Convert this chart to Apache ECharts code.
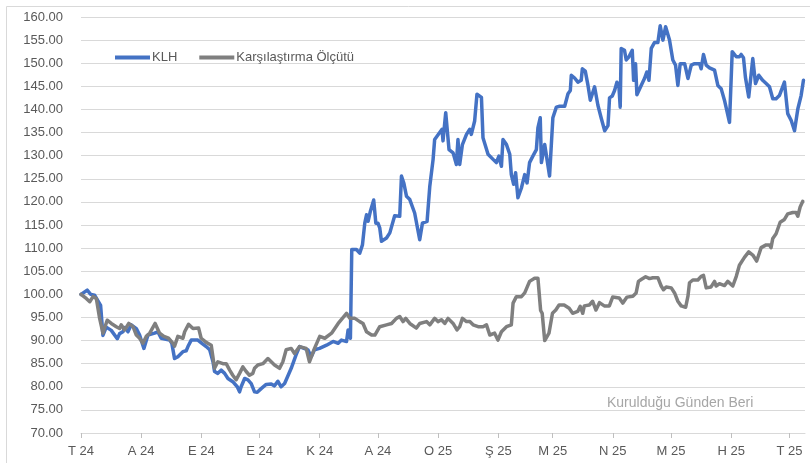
<!DOCTYPE html>
<html>
<head>
<meta charset="utf-8">
<script src="https://cdn.jsdelivr.net/npm/echarts@6/dist/echarts.min.js"></script>
<style>
  html, body { margin: 0; padding: 0; background: #fff; }
  #chart { width: 810px; height: 463px; }
</style>
</head>
<body>
<div id="chart"></div>
<script>
// days since inception (2024-07-01) of each month start, with its axis label
const monthDays = [0, 31, 62, 92, 123, 153, 184, 215, 243, 274, 304, 335, 365]
const monthLabels = ['T 24', 'A 24', 'E 24', 'E 24', 'K 24', 'A 24', 'O 25', 'Ş 25', 'M 25', 'N 25', 'M 25', 'H 25', 'T 25']

// KLH
const klhDays = [0, 1, 3.2, 5, 7, 10.1, 11.3, 13, 15.6, 18.7, 19.9, 21.6, 22.5, 24.2, 25.9, 28.5, 30.2, 32.4, 34.5, 37.9,
  39.6, 41.3, 45.7, 46.8, 48.2, 49.9, 52.5, 54.2, 55.1, 56.8, 60.2, 62.3, 64.5, 66.3, 68, 68.8, 70.5, 72.2, 74, 75.7,
  78.2, 80.5, 81.7, 82.5, 84.3, 86, 87.7, 89.4, 90.8, 92.8, 95.4, 98, 99.7, 101.4, 103.1, 104.9, 108.3, 110.8, 112.6, 116.9,
  118.6, 120.3, 122.9, 126.5, 129.9, 132.5, 134.2, 136.8, 137.6, 138.8, 139.5, 141.9, 143.6, 145, 146.2, 147.1, 147.9, 149.1, 150.8, 151.9,
  153, 153.9, 154.8, 157.4, 159.1, 161.6, 164.2, 165.1, 166.3, 167.7, 169.4, 171.9, 174.5, 175.9, 178.3, 179.7, 181.4, 182.2, 184.8, 186,
  186.5, 187.9, 189.6, 191.7, 193.4, 194.2, 195.1, 196.5, 198.6, 200.3, 201.1, 202.8, 204, 206.3, 207.1, 209.7, 212.3, 214, 215.3, 216.6,
  217.4, 219.2, 220.9, 221.7, 222.9, 223.9, 225.1, 226.9, 228.6, 229.8, 231.1, 232.8, 234.6, 235.4, 236.6, 237.2, 238.9, 241.4, 243.1, 244.9,
  246.6, 249.2, 250.9, 252.1, 252.6, 254.3, 256, 256.9, 257.7, 258.3, 259.8, 261.2, 262.4, 263.4, 264.6, 266.3, 268.1, 269.8, 271.5, 272.3,
  273.7, 274.9, 276.1, 277.1, 277.8, 278.3, 280, 280.9, 282.3, 284, 284.7, 285.7, 286.4, 288.6, 290.3, 291.5, 292.6, 293.8, 295.5, 297.2,
  298.4, 299.8, 301.2, 303.2, 304.9, 306.3, 307.5, 308.7, 311, 312.7, 314.4, 316.1, 318.7, 319.5, 320.7, 322.1, 323.8, 326.4, 328.1, 329.8,
  331.5, 332.7, 334.1, 335.5, 337.6, 339.2, 340.1, 341.3, 342.3, 344, 346.1, 347.5, 349.2, 351.2, 353, 354.7, 356.4, 358.1, 359.8, 362.4,
  364.1, 365.9, 367.6, 369.3, 371, 372.2]
const klhValues = [100, 100.2, 100.9, 100, 99.8, 97.6, 91.1, 92.9, 92.2, 90.4, 91.5, 91.9, 92.8, 91.9, 93.4, 92.6, 91.2, 88.3, 91.2, 91.6,
  91.9, 90.5, 90.1, 89.4, 86.1, 86.5, 87.6, 87.8, 88.7, 90.1, 90.1, 89.4, 88.7, 88, 85.4, 83.3, 82.9, 83.6, 82.9, 81.8,
  81.1, 80, 78.9, 80, 81.8, 81.5, 80.7, 78.9, 78.8, 79.6, 80.5, 80.6, 80.2, 81.2, 80, 80.7, 84, 86.9, 88.7, 88,
  86.5, 88, 88.3, 89, 89.8, 89.4, 90.1, 89.8, 92.3, 90.5, 109.7, 109.7, 108.9, 110.7, 115.4, 117.2, 115.8, 118, 120.4, 115.4,
  115.4, 114.4, 111.5, 112.2, 113.3, 117, 116.9, 125.6, 124.1, 121.2, 120.5, 117.6, 111.8, 115.4, 115.8, 123.4, 129.2, 133.5, 135, 135.7,
  133.2, 139.3, 131.3, 130.6, 128.1, 133.5, 128.1, 132.4, 134.6, 135.7, 134.6, 137.5, 143.3, 142.6, 133.9, 130.3, 129.2, 128.5, 129.9, 127.7,
  133.5, 132.4, 130.3, 125.9, 123.8, 126.3, 120.9, 123, 125.9, 124.1, 128.5, 129.9, 131.3, 136, 138.2, 128.5, 132.4, 125.6, 138.2, 140.5,
  140.7, 140.7, 143.4, 144.1, 147.4, 146.8, 145.9, 145.6, 146.3, 148.8, 148.3, 145.2, 142, 142.3, 144.9, 140.9, 138, 135.4, 136.5, 142.5,
  142.9, 144.1, 145.9, 145.2, 140.5, 153.2, 152.8, 150.7, 151.4, 152.8, 146.3, 149.9, 143.2, 145.2, 146.7, 148.1, 146.3, 153.2, 154.5, 154.5,
  158.1, 155, 157.9, 155, 150.7, 149.6, 145.2, 149.9, 149.9, 146.7, 149.6, 149.9, 149.9, 148.8, 151.9, 149.6, 149, 148.5, 145.2, 144.5,
  142, 139.8, 137.2, 152.5, 151.4, 151.4, 151.9, 151.2, 147, 142.7, 151, 145.6, 147.4, 146.3, 145.6, 144.9, 142.3, 142.3, 143, 145.9,
  139.1, 137.6, 135.4, 140.1, 143, 146.3]

// Karşılaştırma Ölçütü
const benchDays = [0, 2.7, 4.5, 6.2, 7.9, 9.6, 11.3, 13.5, 15.6, 18.2, 19.9, 20.7, 22.5, 24.6, 26.8, 28.5, 30.2, 31.9, 33.6, 35.4,
  38.2, 40.5, 42.7, 45.1, 47.4, 48.2, 49.9, 52.5, 53.4, 55.4, 57.7, 60.6, 61.9, 64.5, 67.1, 68.8, 70.5, 73.1, 74.8, 76.6,
  78.2, 79.9, 81.7, 83.4, 85.1, 86.8, 88.5, 89.4, 91.1, 93.7, 96.3, 98, 99.7, 102.3, 104, 105.7, 108.3, 110, 112.6, 116,
  117.7, 120.3, 123, 125.6, 129.1, 132.5, 136.8, 138.5, 141.1, 143.6, 145.3, 147.1, 149.7, 151.4, 153.9, 157.4, 160, 162.5, 164.2, 165.9,
  167.3, 169.4, 172.8, 174.5, 178, 179.7, 182.2, 183.9, 185.7, 187.4, 189.1, 191.7, 193.7, 195.1, 196.5, 198.6, 200.3, 202, 204.6, 207.1,
  208.9, 210.6, 213.1, 214.8, 216.6, 219.2, 221.7, 222.6, 224.3, 226.9, 228.6, 231.1, 233.7, 235.4, 236.8, 237.6, 238.9, 241.1, 242.9, 244.6,
  246.3, 248.9, 251.5, 253.3, 255.9, 257.2, 258.5, 259.3, 261.9, 263.6, 265.3, 267.1, 269.6, 272.2, 273.9, 277.3, 279.1, 281.3, 284.3, 286,
  287.2, 288.6, 290.9, 292.9, 294.6, 297.2, 298.9, 300.1, 301.5, 304.1, 305.8, 307.5, 309.2, 311.5, 312.7, 313.5, 315.2, 317.8, 319.5, 320.7,
  322.1, 324.6, 326.4, 327.2, 328.9, 331.5, 333.2, 334.1, 335.8, 337.6, 339.2, 341.8, 344, 346.1, 348.1, 350.4, 353, 354.7, 355.5, 356.4,
  358.1, 360.2, 362.4, 364.1, 366.7, 368.4, 369.3, 370.5, 371.8]
const benchValues = [100, 99.1, 98.4, 99.5, 99.1, 94.8, 91.6, 94.4, 93.7, 93, 92.6, 93.4, 92.3, 93.7, 93, 91.2, 90.5, 89.4, 90.9, 91.6,
  93.7, 91.6, 90.9, 90.5, 89.4, 88.8, 90.9, 90.5, 91.9, 93.5, 92.6, 92.7, 90.5, 89.6, 89, 84, 85.4, 85, 85, 83.6,
  82.5, 81.5, 82.9, 84.3, 83.3, 82.5, 82.9, 84, 84.7, 85, 86.1, 85.4, 84.7, 84, 85.4, 88, 88.3, 87.2, 88.7, 88.3,
  85.4, 88.3, 90.9, 90.5, 91.6, 93.7, 95.9, 94.8, 94.8, 94.1, 93.7, 91.9, 91.2, 91.2, 93, 93.4, 93.7, 94.8, 95.2, 94.1,
  94.8, 93.7, 92.7, 93.7, 94.1, 93.4, 94.8, 94.1, 94.5, 93.7, 94.8, 93.7, 92.3, 93, 94.8, 94.1, 94.1, 93.4, 93, 93,
  93.4, 91.2, 91.6, 90.1, 91.9, 93, 93.4, 98.1, 99.5, 99.5, 100.3, 102.8, 103.5, 103.5, 96.5, 95.9, 90, 91.6, 95.9, 96.6,
  97.7, 97.7, 97, 95.9, 96.3, 97.4, 95.9, 97.5, 97.7, 98.5, 96.6, 98.2, 97.5, 97.5, 99.4, 99.2, 98.1, 99.4, 99.6, 100.3,
  102.8, 103.2, 103.8, 103.4, 103.6, 103.6, 101.8, 101, 101.6, 101.4, 100.3, 98.5, 97.5, 97.2, 99.6, 102.5, 103.1, 103.1, 103.9, 104.1,
  101.4, 101.6, 102.8, 101.8, 102.3, 101.9, 102.8, 103.2, 101.8, 103.9, 106.3, 108, 109.2, 108.5, 107.2, 110.1, 110.7, 110.7, 110.1, 112.1,
  113.1, 115.6, 116.2, 117.4, 117.7, 117.7, 116.9, 118.9, 120.1]

const zip = (xs, ys) => xs.map((x, i) => [x, ys[i]])
const font = 'Liberation Sans'

const chart = echarts.init(document.getElementById('chart'))
chart.setOption({
  animation: false,
  textStyle: { fontFamily: font },
  grid: { left: 81, right: 5, top: 17, bottom: 30 },
  legend: {
    data: ['KLH', 'Karşılaştırma Ölçütü'],
    left: 110,
    top: 46,
    icon: 'rect',
    itemWidth: 35,
    itemHeight: 4,
    itemGap: 22,
    textStyle: { color: '#595959', fontSize: 13, fontFamily: font, padding: [0, 0, 0, -3] }
  },
  xAxis: {
    type: 'value',
    min: 0,
    max: 373,
    splitLine: { show: false },
    axisLine: { show: true, lineStyle: { color: '#d9d9d9' } },
    axisTick: { show: true, customValues: monthDays, length: 5, lineStyle: { color: '#bfbfbf' } },
    axisLabel: {
      customValues: monthDays,
      formatter: v => monthLabels[monthDays.indexOf(v)],
      margin: 12,
      color: '#595959',
      fontSize: 13,
      fontFamily: font
    }
  },
  yAxis: {
    type: 'value',
    min: 70,
    max: 160,
    interval: 5,
    axisLine: { show: false },
    axisTick: { show: false },
    splitLine: { lineStyle: { color: '#d9d9d9' } },
    axisLabel: {
      formatter: v => v.toFixed(2),
      margin: 18,
      color: '#595959',
      fontSize: 13,
      fontFamily: font
    }
  },
  graphic: [
    {
      type: 'rect',
      shape: { x: 6.5, y: 6.5, width: 830, height: 480 },
      style: { fill: 'none', stroke: '#d9d9d9', lineWidth: 1 },
      silent: true
    },
    {
      type: 'text',
      left: 607,
      top: 396,
      style: { text: 'Kurulduğu Günden Beri', fill: '#a6a6a6', fontSize: 14, fontFamily: font }
    }
  ],
  series: [
    {
      name: 'KLH',
      type: 'line',
      data: zip(klhDays, klhValues),
      showSymbol: false,
      color: '#4472C4',
      lineStyle: { width: 3.5, color: '#4472C4', join: 'round', cap: 'round' }
    },
    {
      name: 'Karşılaştırma Ölçütü',
      type: 'line',
      data: zip(benchDays, benchValues),
      showSymbol: false,
      color: '#7F7F7F',
      lineStyle: { width: 3.5, color: '#7F7F7F', join: 'round', cap: 'round' }
    }
  ]
})
</script>
</body>
</html>
